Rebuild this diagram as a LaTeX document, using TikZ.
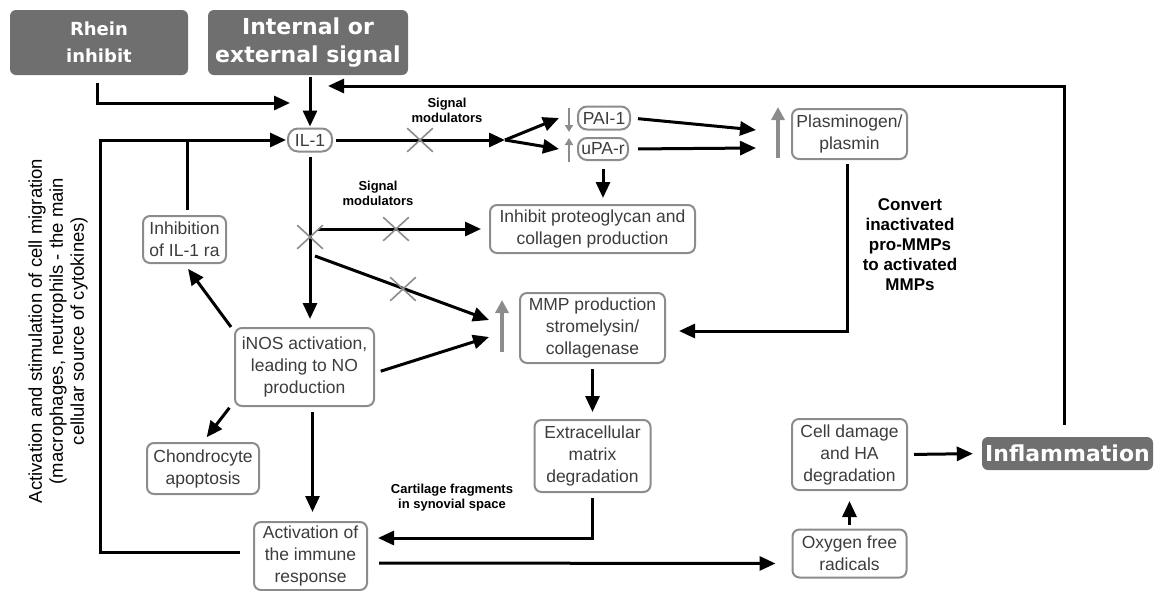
\documentclass[tikz,border=0pt]{standalone}
\usepackage{fontspec}
\setmainfont{Liberation Sans}
\newfontfamily\headfont{DejaVu Sans}
\usetikzlibrary{arrows.meta,shapes.misc,positioning}
\definecolor{boxgray}{HTML}{8C8C8C}
\definecolor{headgray}{HTML}{6F6F6F}
\definecolor{textgray}{HTML}{3C3C3C}
\tikzset{
    stage/.style={
           rectangle,
           rounded corners=7pt,
           draw=boxgray, line width=2pt,
           text=textgray,
           inner sep=1pt,
           align=center,
           font=\fontsize{17.5}{22}\selectfont,
           },
    header/.style={
           rectangle,
           rounded corners=6pt,
           fill=headgray,
           text=white,
           inner sep=1pt,
           align=center,
           font=\headfont\bfseries\fontsize{22}{28}\selectfont,
           },
    blocker/.style={cross out, draw=boxgray, line width=1.6pt,
           minimum width=24pt, minimum height=22pt, inner sep=0pt},
    flow/.style={->, line width=3pt, shorten >=6pt, shorten <=5pt},
    risemark/.style={-{Triangle[length=13pt,width=13pt]}, draw=boxgray, line width=4pt},
    smallmark/.style={-{Triangle[length=7pt,width=8pt]}, draw=boxgray, line width=2pt},
    note/.style={align=center, font=\bfseries\fontsize{13}{15}\selectfont},
}

\begin{document}
\begin{tikzpicture}[x=1pt, y=-1pt, >={Triangle[length=16pt,width=14pt]}]
  \useasboundingbox (0,0) rectangle (1159,590);

   % grey header boxes
   \node[header, minimum width=178pt, minimum height=65pt,
     font=\headfont\bfseries\fontsize{18}{27}\selectfont] (RHEIN) at (99,42.5)
   {Rhein\\inhibit};
   \node[header, minimum width=200pt, minimum height=65pt] (SIGNAL) at (308,42.5)
   {Internal or\\external signal};
   \node[header, minimum width=171pt, minimum height=33pt] (INFLAMMATION) at (1067.5,453.5)
   {Inflammation};

   % IL-1 and the plasminogen branch
   \node[stage, rounded corners=10pt, minimum width=44pt, minimum height=23pt] (IL1) at (310,140) {IL-1};
   \node[stage, rounded corners=9pt, minimum width=52pt, minimum height=23pt] (PAI) at (604,118) {PAI-1};
   \node[stage, rounded corners=9pt, minimum width=50pt, minimum height=22pt] (UPAR) at (603,149) {uPA-r};
   \node[stage, minimum width=115pt, minimum height=50pt] (PLASMIN) at (849.5,134)
   {Plasminogen/\\plasmin};
   \node[stage, minimum width=205pt, minimum height=48pt] (INHIBIT) at (592.5,229)
   {Inhibit proteoglycan and\\collagen production};

   % left column
   \node[stage, minimum width=83pt, minimum height=47pt] (IL1RA) at (184.5,239.5)
   {Inhibition\\of IL-1 ra};
   \node[stage, minimum width=139pt, minimum height=78pt] (INOS) at (304.5,367)
   {iNOS activation,\\leading to NO\\production};
   \node[stage, minimum width=112pt, minimum height=51pt] (APOPTOSIS) at (203,468.5)
   {Chondrocyte\\apoptosis};
   \node[stage, minimum width=113pt, minimum height=68pt] (IMMUNE) at (310.5,556)
   {Activation of\\the immune\\response};

   % matrix branch
   \node[stage, minimum width=145pt, minimum height=70pt] (MMP) at (592.5,328)
   {MMP production\\stromelysin/\\collagenase};
   \node[stage, minimum width=116pt, minimum height=72pt,
     below of=MMP, node distance=128pt] (ECM)
   {Extracellular\\matrix\\degradation};
   \node[stage, minimum width=115pt, minimum height=71pt] (DAMAGE) at (849.5,454.5)
   {Cell damage\\and HA\\degradation};
   \node[stage, minimum width=114pt, minimum height=48pt,
     below of=DAMAGE, node distance=99pt] (OXYGEN)
   {Oxygen free\\radicals};

   % free text
   \node[note] (MODTOP) at (447,110) {Signal\\modulators};
   \node[note] (MODMID) at (378,193) {Signal\\modulators};
   \node[note] (FRAGMENTS) at (452,498) {Cartilage fragments\\in synovial space};
   \node[align=center, font=\bfseries\fontsize{17}{20}\selectfont] (CONVERT) at (910,245)
   {Convert\\inactivated\\pro-MMPs\\to activated\\MMPs};
   \node[rotate=90, align=center, font=\fontsize{18.5}{21}\selectfont] (MIGRATION) at (58,331)
   {Activation and stimulation of cell migration\\(macrophages, neutrophils - the main\\cellular source of cytokines)};

   % junction points
   \coordinate (RJOIN) at (290,103);
   \coordinate (TOPJOIN) at (328,86);
   \coordinate (LOOP) at (100,140);
   \coordinate (FORK) at (505,140);
   \coordinate (BRANCH) at (318,229);
   \coordinate (DIAG) at (315,256);

   % signals into IL-1
   \draw[flow, shorten <=8pt, shorten >=0pt] ([xshift=-2pt]RHEIN.south) |- (RJOIN);
   \draw[flow, shorten <=2pt, shorten >=1pt] (IL1 |- SIGNAL.south) -- (IL1.north);
   \draw[flow, shorten <=12pt, shorten >=0pt] ([xshift=-3pt]INFLAMMATION.north) |- (TOPJOIN);
   \draw[flow, shorten <=13pt, shorten >=1pt] ([yshift=4pt]IMMUNE.west) -| (LOOP) -- (IL1.west);
   \draw[flow, -, shorten >=-1.5pt] ([xshift=3pt]IL1RA.north) -- ([xshift=3pt]IL1RA.north |- LOOP);

   % IL-1 to the PA system
   \draw[flow, shorten <=3pt, shorten >=0pt] (IL1.east) -- (FORK);
   \path (FORK) edge[flow, shorten <=0pt, shorten >=0pt] ([xshift=-18pt]PAI.west)
         (FORK) edge[flow, shorten <=0pt, shorten >=0pt] ([xshift=-18pt]UPAR.west)
         (PAI.east) edge[flow, shorten <=7pt, shorten >=0pt] ([xshift=-35pt,yshift=4pt]PLASMIN.west)
         (UPAR.east) edge[flow, shorten <=9pt, shorten >=0pt] ([xshift=-35pt,yshift=-14pt]PLASMIN.west)
         (UPAR.south) edge[flow, shorten <=8pt] (UPAR.south |- INHIBIT.north);
   \draw[smallmark] ([xshift=-8pt,yshift=10pt]PAI.west) -- ([xshift=-8pt,yshift=-14pt]PAI.west);
   \draw[smallmark] ([xshift=-8pt,yshift=-13pt]UPAR.west) -- ([xshift=-8pt,yshift=11pt]UPAR.west);
   \draw[risemark] ([xshift=-13pt,yshift=-24pt]PLASMIN.west) -- ([xshift=-13pt,yshift=27pt]PLASMIN.west);

   % IL-1 down to iNOS and the blocked branches
   \draw[flow, shorten <=4pt, shorten >=8pt] (IL1.south) -- (IL1.south |- INOS.north);
   \draw[flow, shorten <=0pt, shorten >=8pt] (BRANCH) -- (INHIBIT.west);
   \draw[flow, shorten <=0pt, shorten >=0pt] (DIAG) -- ([xshift=-30pt,yshift=8pt]MMP.west);
   \draw[flow, shorten <=6pt, shorten >=0pt] ([yshift=-6pt]INOS.east) -- ([xshift=-30pt,yshift=-9pt]MMP.west);
   \draw[risemark] ([xshift=-17pt,yshift=-24pt]MMP.west) -- ([xshift=-17pt,yshift=28pt]MMP.west);

   % iNOS outputs
   \draw[flow, shorten <=0pt] ([xshift=-3pt]INOS.north west) -- (IL1RA.south);
   \draw[flow, shorten <=1pt] ([xshift=-4pt]INOS.south west) -- (APOPTOSIS.north);
   \draw[flow, shorten >=9pt] ([xshift=8pt]INOS.south) -- ([xshift=2pt]IMMUNE.north);

   % matrix cascade
   \draw[flow, shorten >=13pt, shorten <=4pt] ([xshift=-2pt]PLASMIN.south) |- ([yshift=-3pt]MMP.east);
   \draw[flow, shorten >=7pt] (MMP.south) -- (MMP.south |- ECM.north);
   \draw[flow, shorten >=10pt] (ECM.south) |- ([yshift=18pt]IMMUNE.east);
   \draw[flow, shorten <=11pt, shorten >=16pt] ([yshift=-7pt]IMMUNE.east) -- ([yshift=-10pt]OXYGEN.west);
   \draw[flow, shorten <=4pt, shorten >=10pt] (OXYGEN.north) -- (OXYGEN.north |- DAMAGE.south);
   \draw[flow, shorten <=6pt, shorten >=9pt] (DAMAGE.east) -- (INFLAMMATION.west);

   % signal modulators
   \node[blocker] (XIL1) at (420,140) {};
   \node[blocker] (XSPLIT) at (310,237) {};
   \node[blocker] (XINHIBIT) at (396,229) {};
   \node[blocker] (XMMP) at (403,289) {};
\end{tikzpicture}
\end{document}
